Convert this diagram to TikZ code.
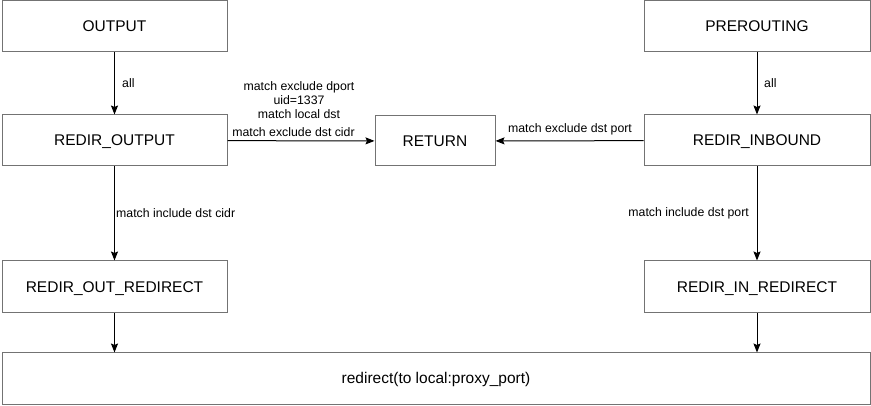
\documentclass[tikz,border=0pt]{standalone}
\usepackage{fontspec}
\setmainfont{Liberation Sans}
\usetikzlibrary{arrows.meta}
\begin{document}
\begin{tikzpicture}[x=1pt,y=-1pt,
  box/.style={draw=black!55,line width=1pt,minimum width=225pt,minimum height=51pt,inner sep=0pt,text height=11pt,text depth=0pt,font=\fontsize{15.5}{17}\selectfont},
  lbl/.style={font=\fontsize{12.3}{14}\selectfont,inner sep=0pt,align=center},
  conn/.style={line width=1pt,-{Stealth[length=9pt,width=7pt,inset=1.5pt]}}]
\path[use as bounding box] (0,0) rectangle (871,406);
\node[box] (out) at (114.5,26.5) {OUTPUT};
\node[box] (rout) at (114.5,140.5) {REDIR\_OUTPUT};
\node[box,minimum height=52pt] (routr) at (114.5,287) {REDIR\_OUT\_REDIRECT};
\node[box,minimum width=226pt] (pre) at (757,26.5) {PREROUTING};
\node[box,minimum width=226pt] (rin) at (757,140.5) {REDIR\_INBOUND};
\node[box,minimum width=226pt,minimum height=52pt] (rinr) at (757,287) {REDIR\_IN\_REDIRECT};
\node[box,minimum width=120pt,minimum height=50pt] (ret) at (435,141) {RETURN};
\node[box,minimum width=868pt] (redir) at (436,378.5) {redirect(to local:proxy\_port)};
\draw[conn] (out) -- (rout);
\draw[conn] (pre) -- (rin);
\draw[conn] (rout) -- (routr);
\draw[conn] (rin) -- (rinr);
\draw[conn] (rout) -- (ret);
\draw[conn] (rin) -- (ret);
\draw[conn] (routr.south) -- (routr.south |- redir.north);
\draw[conn] (rinr.south) -- (rinr.south |- redir.north);
\node[lbl,anchor=west] (l1) at (122,83) {all};
\node[lbl,anchor=west] (l2) at (764,83) {all};
\node[lbl,anchor=west] (l3) at (116,213) {match include dst cidr};
\node[lbl,anchor=east] (l4) at (749,213) {match include dst port};
\node[lbl] (l5) at (299,100) {match exclude dport\\uid=1337\\match local dst};
\node[lbl] (l6) at (293.5,132.5) {match exclude dst cidr};
\node[lbl] (l7) at (570,129) {match exclude dst port};
\end{tikzpicture}
\end{document}
